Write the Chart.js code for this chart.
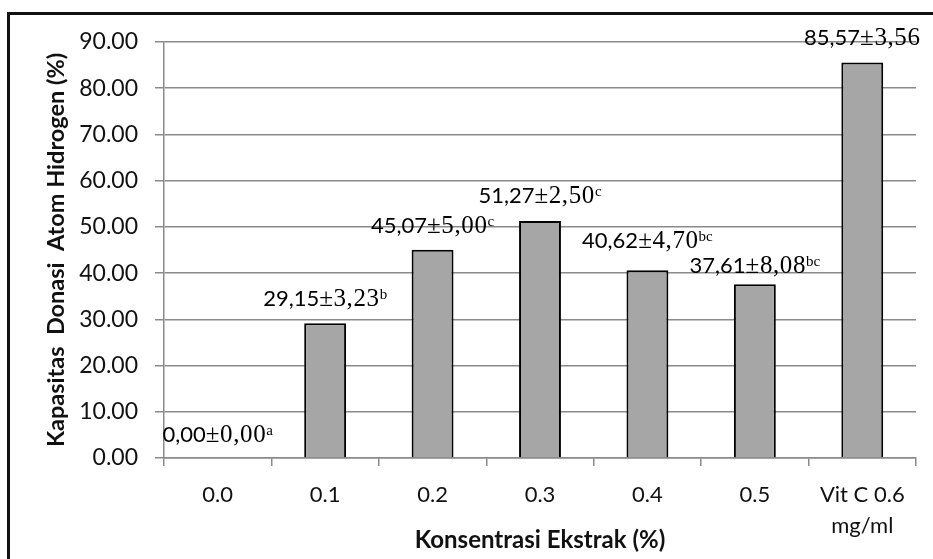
<!DOCTYPE html>
<html>
<head>
<meta charset="utf-8">
<script src="https://cdn.jsdelivr.net/npm/chart.js@4.4.1/dist/chart.umd.min.js"></script>
<style>
  html, body { margin: 0; padding: 0; width: 933px; height: 559px; overflow: hidden; background: #fff; }
  #wrap { position: relative; width: 933px; height: 559px; }
  #frame { position: absolute; left: 7px; top: 12px; width: 1000px; height: 1000px; border: 3px solid #111; pointer-events: none; }
  canvas { position: absolute; left: 0; top: 0; }
</style>
</head>
<body>
<div id="wrap">
  <canvas id="c" width="933" height="559"></canvas>
  <div id="frame"></div>
</div>
<script>
// ---- data ----
const categories = ['0.0', '0.1', '0.2', '0.3', '0.4', '0.5', ['Vit C 0.6', 'mg/ml']];
const means = [0.00, 29.15, 45.07, 51.27, 40.62, 37.61, 85.57];
const sds = [0.00, 3.23, 5.00, 2.50, 4.70, 8.08, 3.56];
const letters = ['a', 'b', 'c', 'c', 'bc', 'bc', ''];
const yTicks = [0, 10, 20, 30, 40, 50, 60, 70, 80, 90];

const SANS = 'Lato, "Open Sans", sans-serif';
const SERIF = '"Liberation Serif", "DejaVu Serif", serif';

function fmt(v) { return v.toFixed(2).replace('.', ','); }

const labelPlugin = {
  id: 'meanLabels',
  afterDatasetsDraw(chart, args, opts) {
    const ctx = chart.ctx;
    const meta = chart.getDatasetMeta(0);
    const lift = opts.lift || [];
    ctx.save();
    ctx.fillStyle = '#000';
    ctx.textBaseline = 'alphabetic';
    ctx.textAlign = 'left';
    meta.data.forEach((el, i) => {
      const p1 = fmt(means[i]);
      const p2 = '\u00B1' + fmt(sds[i]);
      const p3 = letters[i];
      const f1 = '22px ' + SANS, f2 = '25px ' + SERIF, f3 = '15px ' + SERIF;
      ctx.letterSpacing = '0px';
      ctx.font = f1; const w1 = ctx.measureText(p1).width;
      ctx.letterSpacing = '0.6px';
      ctx.font = f2; const w2 = ctx.measureText(p2).width;
      ctx.letterSpacing = '0px';
      ctx.font = f3; const w3 = p3 ? ctx.measureText(p3).width : 0;
      const total = w1 + w2 + w3;
      let x = el.x - total / 2;
      const base = el.y - (lift[i] !== undefined ? lift[i] : 17);
      ctx.font = f1; ctx.fillText(p1, x, base); x += w1;
      ctx.letterSpacing = '0.6px';
      ctx.font = f2; ctx.fillText(p2, x, base); x += w2;
      ctx.letterSpacing = '0px';
      if (p3) { ctx.font = f3; ctx.fillText(p3, x, base - 7); }
    });
    ctx.restore();
  }
};

new Chart(document.getElementById('c'), {
  type: 'bar',
  data: {
    labels: categories,
    datasets: [{
      data: means,
      backgroundColor: '#a6a6a6',
      borderColor: '#000',
      borderWidth: 2,
      borderSkipped: 'bottom',
      barPercentage: 0.39,
      categoryPercentage: 1.0
    }]
  },
  options: {
    responsive: false,
    animation: false,
    devicePixelRatio: 1,
    layout: { padding: { left: 0, top: 42, right: 17, bottom: 0 } },
    plugins: {
      legend: { display: false },
      tooltip: { enabled: false },
      meanLabels: { lift: [16, 17, 17, 18, 22, 11, 17] }
    },
    scales: {
      x: {
        offset: true,
        grid: { display: true, drawOnChartArea: false, drawTicks: true, tickLength: 8, color: '#8a8a8a', lineWidth: 1.5, offset: true },
        border: { display: true, color: '#8a8a8a', width: 1.5 },
        ticks: { color: '#111', font: { family: SANS, size: 22, lineHeight: 1.4 }, padding: 14, maxRotation: 0, autoSkip: false },
        title: { display: true, text: 'Konsentrasi Ekstrak (%)', color: '#111', font: { family: SANS, size: 24, weight: 'bold' }, padding: { top: 0, bottom: 4 } },
        afterFit(s) { s.height = 101; }
      },
      y: {
        min: 0, max: 90,
        afterBuildTicks(s) { s.ticks = yTicks.map(v => ({ value: v })); },
        grid: { color: '#8a8a8a', lineWidth: 1.5, tickLength: 9 },
        border: { display: true, color: '#8a8a8a', width: 1.5 },
        ticks: { color: '#111', font: { family: SANS, size: 23 }, padding: 17, callback: v => Number(v).toFixed(2) },
        title: { display: true, text: 'Kapasitas  Donasi  Atom Hidrogen (%)', color: '#111', font: { family: SANS, size: 23.5, weight: 'bold' }, padding: { top: 42, bottom: 0 } },
        afterFit(s) { s.width = 164; }
      }
    }
  },
  plugins: [labelPlugin]
});
</script>
</body>
</html>
